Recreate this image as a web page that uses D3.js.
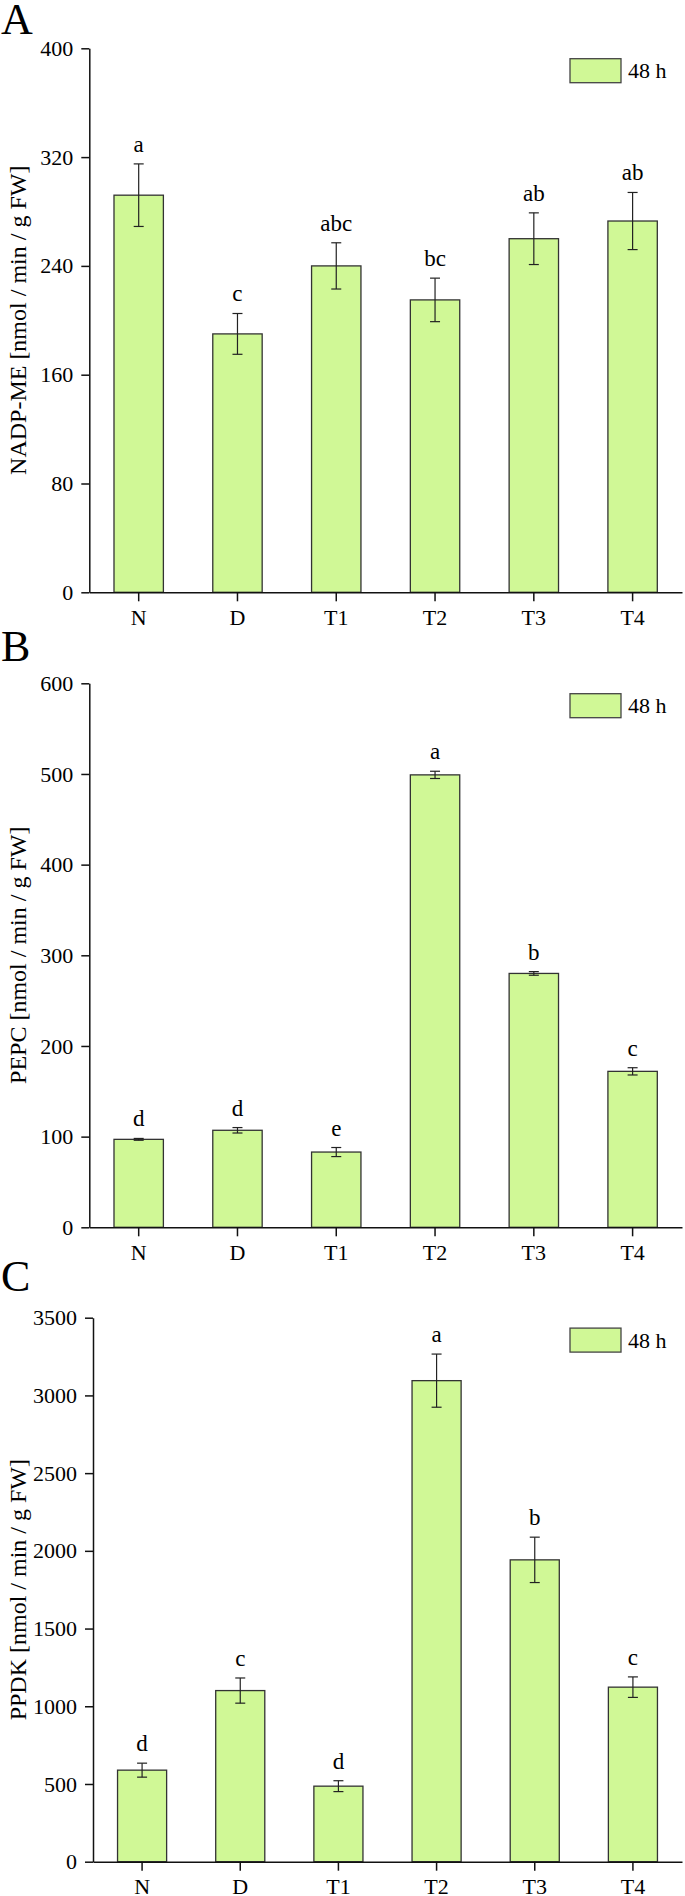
<!DOCTYPE html>
<html>
<head>
<meta charset="utf-8">
<script src="https://cdn.jsdelivr.net/npm/d3@7"></script>
<style>
  body { margin: 0; background: #fff; }
  svg text { font-family: "Liberation Serif", "Times New Roman", serif; fill: #000; }
</style>
</head>
<body>
<script>
// data
const categories = ["N", "D", "T1", "T2", "T3", "T4"];

const nadpMean = [292, 190, 240, 215, 260, 273];
const nadpErr = [23, 15, 17, 16, 19, 21];
const nadpLetters = ["a", "c", "abc", "bc", "ab", "ab"];
const nadpTicks = [0, 80, 160, 240, 320, 400];

const pepcMean = [97, 107, 83, 499, 280, 172];
const pepcErr = [1, 3, 5, 4, 2, 4];
const pepcLetters = ["d", "d", "e", "a", "b", "c"];
const pepcTicks = [0, 100, 200, 300, 400, 500, 600];

const ppdkMean = [589, 1101, 486, 3095, 1942, 1123];
const ppdkErr = [45, 81, 35, 171, 146, 66];
const ppdkLetters = ["d", "c", "d", "a", "b", "c"];
const ppdkTicks = [0, 500, 1000, 1500, 2000, 2500, 3000, 3500];

const legendLabel = "48 h";

const width = 685;
const height = 1896;
const plotH = 544;
const right = 682;
const barFill = "#d0f896";
const serif = "Liberation Serif, Times New Roman, serif";

const svg = d3.select("body")
  .append("svg")
  .attr("width", width)
  .attr("height", height);

const panels = [
  { letter: "A", label: "NADP-ME [nmol / min / g FW]", mean: nadpMean, err: nadpErr, sig: nadpLetters, ticks: nadpTicks, top: 48.3, left: 89.3, letterY: 34 },
  { letter: "B", label: "PEPC [nmol / min / g FW]", mean: pepcMean, err: pepcErr, sig: pepcLetters, ticks: pepcTicks, top: 683.3, left: 89.3, letterY: 661 },
  { letter: "C", label: "PPDK [nmol / min / g FW]", mean: ppdkMean, err: ppdkErr, sig: ppdkLetters, ticks: ppdkTicks, top: 1317.7, left: 93, letterY: 1291 }
];

panels.forEach(p => {
  // panel letter
  svg.append("text")
    .attr("x", 1)
    .attr("y", p.letterY)
    .attr("font-size", 44)
    .text(p.letter);

  const g = svg.append("g").attr("transform", `translate(0,${p.top})`);

  const x = d3.scaleBand()
    .domain(categories)
    .range([p.left, right])
    .paddingInner(0.5)
    .paddingOuter(0.25);

  const y = d3.scaleLinear()
    .domain([0, d3.max(p.ticks)])
    .range([plotH, 0]);

  // bars
  g.selectAll(".bar")
    .data(categories)
    .enter()
    .append("rect")
    .attr("class", "bar")
    .attr("x", d => x(d))
    .attr("y", (d, i) => y(p.mean[i]))
    .attr("width", x.bandwidth())
    .attr("height", (d, i) => y(0) - y(p.mean[i]))
    .attr("fill", barFill)
    .attr("stroke", "#333")
    .attr("stroke-width", 1.3);

  // error bars
  const eb = g.selectAll(".err")
    .data(categories)
    .enter()
    .append("g")
    .attr("class", "err")
    .attr("stroke", "#222")
    .attr("stroke-width", 1.2);

  const cx = d => x(d) + x.bandwidth() / 2;
  eb.append("line")
    .attr("x1", cx).attr("x2", cx)
    .attr("y1", (d, i) => y(p.mean[i] + p.err[i]))
    .attr("y2", (d, i) => y(p.mean[i] - p.err[i]));
  eb.append("line")
    .attr("x1", d => cx(d) - 5).attr("x2", d => cx(d) + 5)
    .attr("y1", (d, i) => y(p.mean[i] + p.err[i]))
    .attr("y2", (d, i) => y(p.mean[i] + p.err[i]));
  eb.append("line")
    .attr("x1", d => cx(d) - 5).attr("x2", d => cx(d) + 5)
    .attr("y1", (d, i) => y(p.mean[i] - p.err[i]))
    .attr("y2", (d, i) => y(p.mean[i] - p.err[i]));

  // significance letters
  g.selectAll(".sig")
    .data(categories)
    .enter()
    .append("text")
    .attr("class", "sig")
    .attr("x", cx)
    .attr("y", (d, i) => y(p.mean[i] + p.err[i]) - 12)
    .attr("text-anchor", "middle")
    .attr("font-size", 23)
    .text((d, i) => p.sig[i]);

  // axes
  const yAxis = g.append("g")
    .attr("transform", `translate(${p.left},0)`)
    .call(d3.axisLeft(y).tickValues(p.ticks).tickFormat(d3.format("d"))
      .tickSize(8).tickPadding(8).tickSizeOuter(0));

  const xAxis = g.append("g")
    .attr("transform", `translate(0,${plotH})`)
    .call(d3.axisBottom(x).tickSize(9).tickPadding(8).tickSizeOuter(0));

  [yAxis, xAxis].forEach(a => {
    a.attr("font-family", serif).attr("font-size", 22);
    a.selectAll("path, line").attr("stroke", "#111").attr("stroke-width", 1.5);
    a.selectAll("text").style("font-family", serif).style("font-size", "22px").attr("fill", "#000");
  });

  // y label
  g.append("text")
    .attr("transform", `translate(26,${plotH / 2}) rotate(-90)`)
    .attr("text-anchor", "middle")
    .attr("font-size", 24)
    .text(p.label);

  // legend
  g.append("rect")
    .attr("x", 570)
    .attr("y", 10.4)
    .attr("width", 51)
    .attr("height", 24)
    .attr("fill", barFill)
    .attr("stroke", "#444")
    .attr("stroke-width", 1.3);
  g.append("text")
    .attr("x", 628)
    .attr("y", 30)
    .attr("font-size", 22)
    .text(legendLabel);
});
</script>
</body>
</html>
